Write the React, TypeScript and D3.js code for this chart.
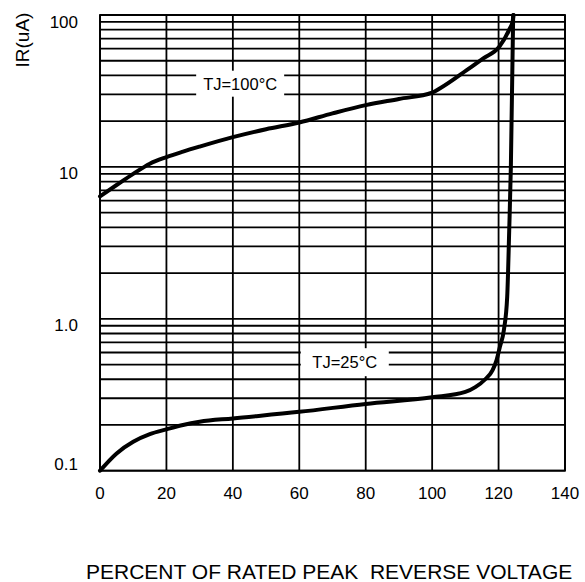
import React from "react";
import * as d3 from "d3";

const xTicks = [0, 20, 40, 60, 80, 100, 120, 140];
const yLabelValues = [0.1, 1, 10, 100];
const yLabelTexts = ["0.1", "1.0", "10", "100"];
const decades = [0.1, 1, 10];
const multiples = [1, 2, 3, 4, 5, 6, 7, 8, 9];

const pct100 = [0, 5, 10, 15, 20, 25, 30, 40, 50, 60, 70, 80, 90, 100, 102.4, 110.4, 115.4, 120.2, 123.4, 124.2, 124.5];
const ir100 = [6.4, 7.6, 9.0, 10.5, 11.6, 12.6, 13.6, 15.7, 17.7, 19.6, 22.5, 25.5, 28, 30.8, 32.9, 43.3, 51.9, 61.8, 81.7, 90, 100];

const pct25 = [0, 5, 10, 15, 20, 25, 30, 40, 60, 80, 100, 110, 113, 116, 118.2, 119.4, 120.4, 121.6, 122.6, 123.2, 123.7, 124.4];
const ir25 = [0.1, 0.13, 0.155, 0.174, 0.187, 0.2, 0.21, 0.221, 0.244, 0.275, 0.304, 0.33, 0.355, 0.4, 0.46, 0.535, 0.655, 0.844, 1.4, 3.8, 10, 100];

const labels = [
  { text: "TJ=100°C", pct: 42.2, ir: 35.3, w: 88, h: 26 },
  { text: "TJ=25°C", pct: 73.7, ir: 0.518, w: 88, h: 28 },
];

const W = 585;
const H = 582;
const left = 100;
const right = 565;
const top = 15;
const bottom = 470.7;
const font = "'Liberation Sans', Arial, sans-serif";

export default function App() {
  const x = d3.scaleLinear().domain([0, 140]).range([left, right]);
  const y = d3.scaleLog().domain([0.1, 100]).range([bottom, top]);

  const gridY: number[] = [];
  decades.forEach((d) => multiples.forEach((m) => gridY.push(d * m)));
  gridY.push(100);

  const line = d3
    .line<[number, number]>()
    .x((d) => x(d[0]))
    .y((d) => y(d[1]))
    .curve(d3.curveMonotoneX);

  const c100 = pct100.map((p, i) => [p, ir100[i]] as [number, number]);
  const c25 = pct25.map((p, i) => [p, ir25[i]] as [number, number]);

  return (
    <svg
      width={W}
      height={H}
      style={{ position: "absolute", left: 0, top: 0, background: "#fff" }}
      fontFamily={font}
    >
      <rect x={0} y={0} width={W} height={H} fill="#fff" />
      <g stroke="#000" strokeWidth={1.8}>
        {gridY.map((v, i) => (
          <line key={"gy" + i} x1={left} x2={right} y1={y(v)} y2={y(v)} />
        ))}
        {xTicks.map((v) => (
          <line key={"gx" + v} x1={x(v)} x2={x(v)} y1={top} y2={bottom} />
        ))}
      </g>
      {labels.map((l) => (
        <g key={l.text}>
          <rect
            x={x(l.pct) - l.w / 2}
            y={y(l.ir) - l.h / 2}
            width={l.w}
            height={l.h}
            fill="#fff"
          />
          <text
            x={x(l.pct)}
            y={y(l.ir)}
            textAnchor="middle"
            dominantBaseline="central"
            fontSize={16.5}
            fill="#000"
          >
            {l.text}
          </text>
        </g>
      ))}
      <path d={line(c25) || ""} fill="none" stroke="#000" strokeWidth={4} strokeLinejoin="round" strokeLinecap="round" />
      <path d={line(c100) || ""} fill="none" stroke="#000" strokeWidth={4} strokeLinejoin="round" strokeLinecap="round" />
      <rect x={left} y={top} width={right - left} height={bottom - top} fill="none" stroke="#000" strokeWidth={1.8} />
      {xTicks.map((v) => (
        <text key={"xt" + v} x={x(v)} y={bottom + 23} textAnchor="middle" dominantBaseline="central" fontSize={17} fill="#000">
          {v}
        </text>
      ))}
      {yLabelValues.map((v, i) => (
        <text
          key={"yt" + v}
          x={78}
          y={Math.min(y(v) + 7, bottom - 6)}
          textAnchor="end"
          dominantBaseline="central"
          fontSize={17}
          fill="#000"
        >
          {yLabelTexts[i]}
        </text>
      ))}
      <text
        transform="translate(22,40) rotate(-90)"
        textAnchor="middle"
        dominantBaseline="central"
        fontSize={19}
        fill="#000"
      >
        IR(uA)
      </text>
      <text x={86} y={578.5} fontSize={21} fill="#000" style={{ whiteSpace: "pre" }}>
        {"PERCENT OF RATED PEAK  REVERSE VOLTAGE"}
      </text>
    </svg>
  );
}
